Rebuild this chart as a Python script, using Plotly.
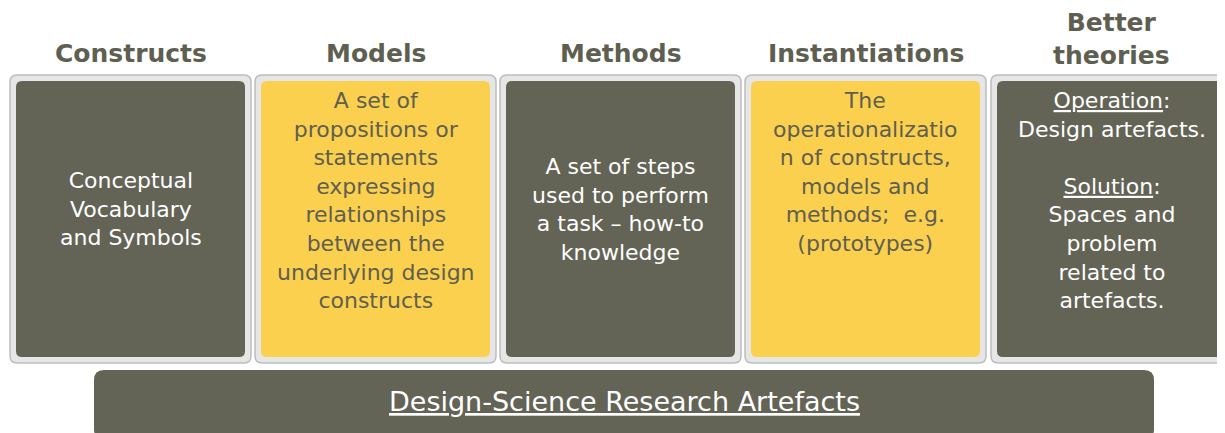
import plotly.graph_objects as go

headers = ["Constructs", "Models", "Methods", "Instantiations", "Better<br>theories"]
descriptions = [
    "Conceptual<br>Vocabulary<br>and Symbols",
    "A set of<br>propositions or<br>statements<br>expressing<br>relationships<br>between the<br>underlying design<br>constructs",
    "A set of steps<br>used to perform<br>a task – how-to<br>knowledge",
    "The<br>operationalizatio<br>n of constructs,<br>models and<br>methods;  e.g.<br>(prototypes)",
    "<u>Operation</u>:<br>Design artefacts.<br><br><u>Solution</u>:<br>Spaces and<br>problem<br>related to<br>artefacts.",
]
desc_valign = ["middle", "top", "middle", "top", "top"]
box_kind = ["dark", "yellow", "dark", "yellow", "dark"]
footer = "<u>Design-Science Research Artefacts</u>"

DARK = "#636456"
YELLOW = "#FCD04F"
HEAD = "#5E5F50"

def rr(x0, y0, x1, y1, r):
    return (f"M{x0+r},{y0} L{x1-r},{y0} Q{x1},{y0} {x1},{y0+r} L{x1},{y1-r} Q{x1},{y1} {x1-r},{y1} "
            f"L{x0+r},{y1} Q{x0},{y1} {x0},{y1-r} L{x0},{y0+r} Q{x0},{y0} {x0+r},{y0} Z")

fig = go.Figure()
shapes, anns = [], []
outer_x = [2, 247, 492, 737, 983]
w = 241
for i, h in enumerate(headers):
    x0 = outer_x[i]
    shapes.append(dict(type="path", path=rr(x0, 67, x0 + w, 355, 7), fillcolor="#E6E6E6",
                       line=dict(color="#BDBDBD", width=1.5), layer="below"))
    shapes.append(dict(type="path", path=rr(x0 + 6, 73, x0 + w - 6, 349, 6),
                       fillcolor=DARK if box_kind[i] == "dark" else YELLOW, line=dict(width=0), layer="below"))
    cx = x0 + w / 2
    two = "<br>" in h
    anns.append(dict(x=cx, y=31 if two else 45, text=f"<b>{h}</b>", showarrow=False,
                     font=dict(size=25, color=HEAD, family="DejaVu Sans"), yanchor="middle"))
    dark = box_kind[i] == "dark"
    col = "#FFFFFF" if dark else "#5E5F50"
    if desc_valign[i] == "middle":
        anns.append(dict(x=cx, y=201, text=descriptions[i], showarrow=False, yanchor="middle",
                         font=dict(size=22, color=col, family="DejaVu Sans")))
    else:
        anns.append(dict(x=cx, y=78, text=descriptions[i], showarrow=False, yanchor="top",
                         font=dict(size=22, color=col, family="DejaVu Sans")))
shapes.append(dict(type="path", path=rr(86, 362, 1146, 432, 10), fillcolor=DARK, line=dict(width=0), layer="below"))
anns.append(dict(x=616, y=393, text=footer, showarrow=False, yanchor="middle",
                 font=dict(size=27, color="#FFFFFF", family="DejaVu Sans")))

fig.update_layout(width=1225, height=433, margin=dict(l=0, r=0, t=0, b=0),
                  paper_bgcolor="white", plot_bgcolor="white", shapes=shapes, annotations=anns,
                  xaxis=dict(range=[0, 1225], visible=False, fixedrange=True),
                  yaxis=dict(range=[433, 0], visible=False, fixedrange=True), showlegend=False)
fig.write_html("out.html", config={"displayModeBar": False})
